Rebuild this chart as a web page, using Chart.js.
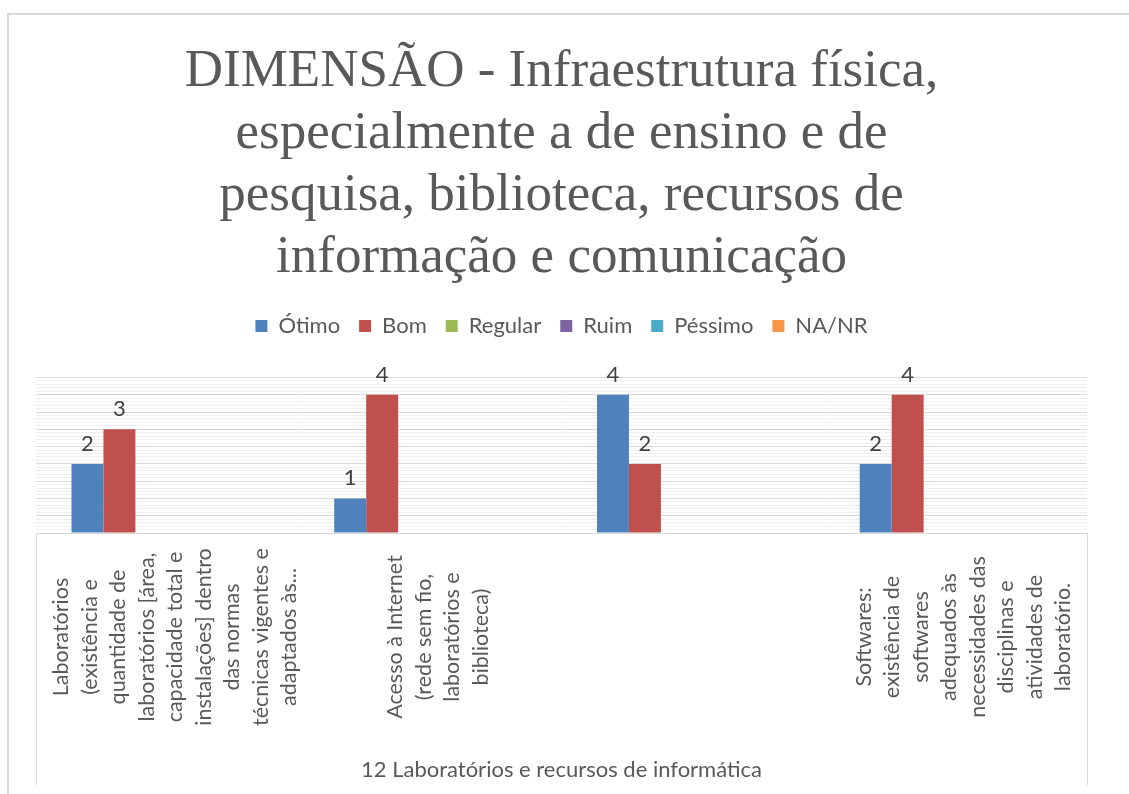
<!DOCTYPE html>
<html>
<head>
<meta charset="utf-8">
<script src="https://cdn.jsdelivr.net/npm/chart.js@4"></script>
<style>
  html, body { margin: 0; padding: 0; background: #fff; }
  #wrap { width: 1129px; height: 794px; position: relative; }
</style>
</head>
<body>
<div id="wrap"><canvas id="dimChart"></canvas></div>
<script>
// Chart text
const titleLines = [
    'DIMENSÃO - Infraestrutura física,',
    'especialmente a de ensino e de',
    'pesquisa, biblioteca, recursos de',
    'informação e comunicação'
];
const axisTitle = '12 Laboratórios e recursos de informática';

// Categories (already wrapped into lines)
const categories = [
    ['Laboratórios', '(existência e', 'quantidade de', 'laboratórios [área,', 'capacidade total e',
     'instalações] dentro', 'das normas', 'técnicas vigentes e', 'adaptados às...'],
    ['Acesso à Internet', '(rede sem fio,', 'laboratórios e', 'biblioteca)'],
    [''],
    ['Softwares:', 'existência de', 'softwares', 'adequados às', 'necessidades das',
     'disciplinas e', 'atividades de', 'laboratório.']
];

// Answers per category
const seriesNames = ['Ótimo', 'Bom', 'Regular', 'Ruim', 'Péssimo', 'NA/NR'];
const otimo   = [2, 1, 4, 2];
const bom     = [3, 4, 2, 4];
const regular = [null, null, null, null];
const ruim    = [null, null, null, null];
const pessimo = [null, null, null, null];
const nanr    = [null, null, null, null];
const seriesColors = ['#4f81bd', '#c0504d', '#9bbb59', '#8064a2', '#4bacc6', '#f79646'];

const yMax = 4.5;

const TEXT = '#595959';
const GRID = '#d9d9d9';

const seriesData = [otimo, bom, regular, ruim, pessimo, nanr];
const datasets = seriesNames.map((name, i) => ({
    label: name,
    data: seriesData[i],
    backgroundColor: seriesColors[i],
    borderWidth: 0
}));

// light grey frame around the whole chart
const framePlugin = {
    id: 'frame',
    beforeDraw(chart) {
        const c = chart.ctx;
        c.save();
        c.fillStyle = '#fff';
        c.fillRect(0, 0, chart.width, chart.height);
        c.strokeStyle = GRID;
        c.lineWidth = 2;
        c.strokeRect(8, 14, chart.width + 20, chart.height + 20);
        c.restore();
    }
};

// value above each bar
const valueLabels = {
    id: 'valueLabels',
    afterDatasetsDraw(chart) {
        const c = chart.ctx;
        c.save();
        c.font = '22px Lato';
        c.fillStyle = '#404040';
        c.textAlign = 'center';
        c.textBaseline = 'alphabetic';
        chart.data.datasets.forEach((ds, di) => {
            const meta = chart.getDatasetMeta(di);
            meta.data.forEach((bar, i) => {
                const v = ds.data[i];
                if (v === null || v === 0) return;
                c.fillText(String(v), bar.x, bar.y - 13);
            });
        });
        c.restore();
    }
};

// rotated, centred multi-line category labels
const categoryLabels = {
    id: 'categoryLabels',
    afterDraw(chart) {
        const xs = chart.scales.x;
        const c = chart.ctx;
        const lineGap = 28.5;
        const midY = 637;
        c.save();
        c.font = '21.5px Lato';
        c.fillStyle = TEXT;
        c.textAlign = 'center';
        c.textBaseline = 'middle';
        categories.forEach((lines, i) => {
            const cx = xs.getPixelForValue(i) + 8;
            lines.forEach((txt, j) => {
                const x = cx + (j - (lines.length - 1) / 2) * lineGap;
                c.save();
                c.translate(x, midY);
                c.rotate(-Math.PI / 2);
                c.fillText(txt, 0, 0);
                c.restore();
            });
        });
        c.restore();
    }
};

const ctx = document.getElementById('dimChart').getContext('2d');
new Chart(ctx, {
    type: 'bar',
    data: {
        labels: categories,
        datasets: datasets
    },
    options: {
        responsive: true,
        maintainAspectRatio: false,
        animation: false,
        layout: {
            padding: { left: 36, right: 42, top: 0, bottom: 9 }
        },
        datasets: {
            bar: { categoryPercentage: 0.73, barPercentage: 1 }
        },
        plugins: {
            title: {
                display: true,
                text: titleLines,
                color: TEXT,
                font: { family: 'Liberation Serif', size: 53, weight: 'normal', lineHeight: 62 / 53 },
                padding: { top: 41, bottom: 7 }
            },
            // empty spacer between legend and plot
            subtitle: {
                display: true,
                text: '',
                weight: 500,
                font: { size: 1, lineHeight: 1 },
                padding: { top: 0, bottom: 29.5 }
            },
            legend: {
                position: 'top',
                labels: {
                    color: TEXT,
                    font: { family: 'Lato', size: 22 },
                    boxWidth: 12,
                    boxHeight: 12,
                    padding: 19
                }
            },
            tooltip: { enabled: false }
        },
        scales: {
            x: {
                grid: {
                    drawOnChartArea: false,
                    drawTicks: true,
                    tickLength: 252,
                    color: c => (c.type === 'scale' || c.index === 0) ? GRID : 'rgba(0,0,0,0)'
                },
                border: { color: GRID },
                ticks: { display: false },
                title: {
                    display: true,
                    text: axisTitle,
                    color: TEXT,
                    font: { family: 'Lato', size: 22 },
                    padding: { top: 0, bottom: 2 }
                },
                afterFit: s => { s.height = 252; }
            },
            y: {
                min: 0,
                max: yMax,
                ticks: { display: false, stepSize: 0.1 },
                grid: {
                    drawTicks: false,
                    color: c => {
                        const v = c.tick.value * 2;
                        return Math.abs(v - Math.round(v)) < 1e-6 ? GRID : '#efefef';
                    }
                },
                border: { display: false }
            }
        }
    },
    plugins: [framePlugin, valueLabels, categoryLabels]
});
</script>
</body>
</html>
